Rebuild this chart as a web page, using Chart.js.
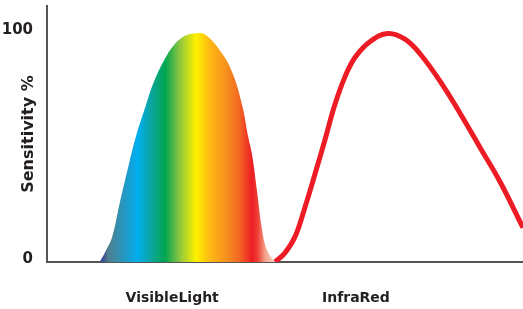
<!DOCTYPE html>
<html>
<head>
<meta charset="utf-8">
<script src="https://cdn.jsdelivr.net/npm/chart.js@4"></script>
<style>
  html, body { margin: 0; padding: 0; background: #fff; }
  #wrap { width: 523px; height: 309px; }
</style>
</head>
<body>
<div id="wrap"><canvas id="sensChart"></canvas></div>
<script>
// ================================
// DATA (x = position along spectrum 0..100, y = sensitivity %)
// ================================

let visibleX = [11.1, 12.4, 13.7, 15.3, 17.0, 18.7, 20.6, 22.3, 24.8, 26.9, 29.0, 31.1, 33.2, 36.3, 38.9, 41.0, 42.2, 43.1, 44.1, 45.2, 46.2, 47.5, 48.1];
let visibleY = [0, 5, 11, 26, 41, 55, 67.5, 78, 89, 95.5, 99, 100, 99.5, 92.6, 83, 68.6, 55.5, 46.7, 31.4, 14, 5.2, 0.9, 0];

let infraX = [47.9, 50.0, 52.1, 54.2, 56.3, 58.4, 60.5, 62.6, 64.7, 67.9, 71.6, 75.2, 78.4, 82.6, 86.8, 91.0, 95.2, 100];
let infraY = [0, 4, 11, 24, 38.5, 53.5, 69, 81, 89.5, 96.5, 100, 97.5, 91, 79, 65, 50, 35, 15];

let xTickValues = [26.3, 64.9];
let xTickLabels = ["VisibleLight", "InfraRed"];
let yTickValues = [0, 100];

// rainbow stops for the visible band (position on x scale, colour)
let rainbowStops = [
  [11.1, "#2e3192"], [12.9, "#4f7f8f"], [19.1, "#00aeef"], [22.0, "#0aa59a"],
  [24.8, "#00a651"], [27.9, "#8dc63f"], [31.3, "#fff200"], [34.2, "#fdb913"],
  [37.4, "#f7941d"], [40.5, "#f26522"], [43.1, "#ed1c24"], [44.3, "#ef4136"],
  [45.8, "#f4a08a"], [47.9, "#fbd3c6"]
];

function toPoints(xs, ys) {
  return xs.map((x, i) => ({ x: x, y: ys[i] }));
}

// horizontal rainbow gradient laid out on the x scale
function rainbowFill(context) {
  let chart = context.chart;
  if (!chart.chartArea) return "#00a651";
  let xs = chart.scales.x;
  let x0 = xs.getPixelForValue(rainbowStops[0][0]);
  let x1 = xs.getPixelForValue(rainbowStops[rainbowStops.length - 1][0]);
  let g = chart.ctx.createLinearGradient(x0, 0, x1, 0);
  rainbowStops.forEach(s => {
    g.addColorStop((xs.getPixelForValue(s[0]) - x0) / (x1 - x0), s[1]);
  });
  return g;
}

const FONT = "'DejaVu Sans', sans-serif";
const INK = "#231f20";

let ctx = document.getElementById("sensChart").getContext("2d");

let sensChart = new Chart(ctx, {
  type: "line",
  data: {
    datasets: [{
      label: "Visible",
      data: toPoints(visibleX, visibleY),
      backgroundColor: rainbowFill,
      borderWidth: 0,
      fill: "origin",
      pointRadius: 0,
      tension: 0.4
    }, {
      label: "Infrared",
      data: toPoints(infraX, infraY),
      borderColor: "#ed1c24",
      borderWidth: 5,
      fill: false,
      pointRadius: 0,
      tension: 0.4
    }]
  },
  options: {
    responsive: true,
    maintainAspectRatio: false,
    animation: false,
    layout: { padding: { top: 6, right: 0, left: 0, bottom: 0 } },
    plugins: { legend: { display: false }, tooltip: { enabled: false } },
    scales: {
      x: {
        type: "linear",
        min: 0,
        max: 100,
        grid: { display: false },
        border: { color: "#555", width: 2 },
        afterBuildTicks: s => { s.ticks = xTickValues.map(v => ({ value: v })); },
        afterFit: s => { s.height = 47; s.paddingLeft = 0; s.paddingRight = 0; },
        ticks: {
          padding: 20,
          color: INK,
          font: { family: FONT, size: 14, weight: "bold" },
          callback: (v, i) => xTickLabels[i]
        }
      },
      y: {
        min: 0,
        max: 112,
        grid: { display: false },
        border: { color: "#555", width: 2 },
        afterBuildTicks: s => { s.ticks = yTickValues.map(v => ({ value: v })); },
        afterFit: s => { s.width = 47; s.paddingTop = 0; s.paddingBottom = 0; },
        ticks: {
          padding: 6,
          labelOffset: -3,
          color: INK,
          font: { family: FONT, size: 15, weight: "bold" }
        },
        title: {
          display: true,
          text: "Sensitivity %",
          color: INK,
          padding: { top: 19, bottom: 0 },
          font: { family: FONT, size: 16, weight: "bold" }
        }
      }
    }
  }
});
</script>
</body>
</html>
